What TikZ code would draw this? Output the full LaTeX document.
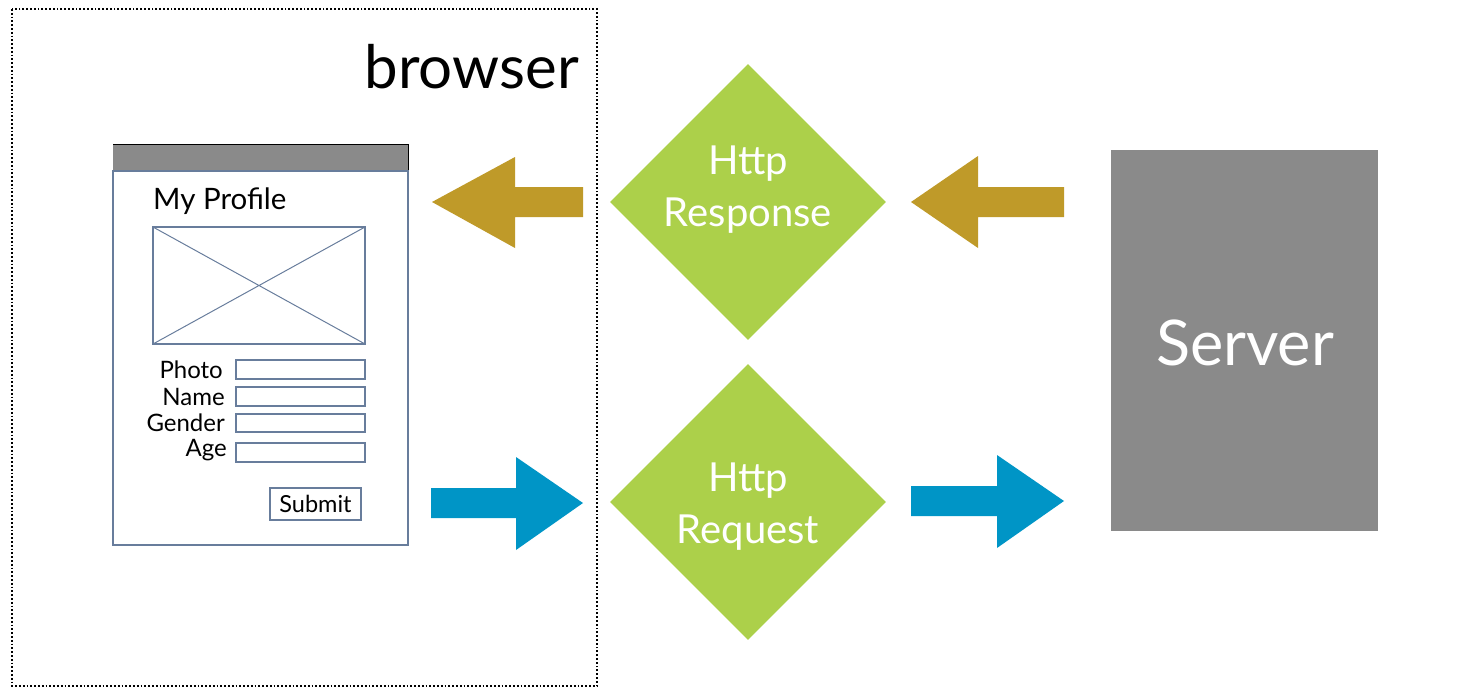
\documentclass[tikz,border=0pt]{standalone}
\usepackage{fontspec}
\setmainfont{Lato}
\usetikzlibrary{shapes.geometric}
\definecolor{slate}{HTML}{687D9C}
\definecolor{barGray}{HTML}{8A8A8A}
\definecolor{gold}{HTML}{BF9A29}
\definecolor{sky}{HTML}{0095C6}
\definecolor{leaf}{HTML}{ACD04A}
\tikzset{
  winbox/.style={draw=slate, line width=2.2pt},
  fieldbox/.style={draw=slate, line width=2pt, fill=white},
  lbl/.style={anchor=east, font=\fontsize{24}{24}\selectfont, inner sep=0pt},
  goldarrow/.style={fill=gold, draw=none},
  bluearrow/.style={fill=sky, draw=none},
  dia/.style={diamond, fill=leaf, draw=none, minimum width=276pt, minimum height=276pt, inner sep=0pt},
  diatext/.style={text=white, align=center, inner sep=0pt, font=\fontsize{40}{52}\selectfont},
}
\begin{document}
\begin{tikzpicture}[x=1pt,y=-1pt]
\useasboundingbox (0,0) rectangle (1469,688);
% browser frame
\draw[dotted, line width=1.8pt] (12,9) rectangle (597,686);
\node[anchor=east, font=\fontsize{60}{60}\selectfont, inner sep=0pt] (browserlbl) at (579,67) {browser};
% window
\fill[barGray] (113,144) rectangle (408,171);
\draw[black, line width=1pt] (113,144) -- (408,144) -- (408,171);
\draw[winbox] (113,171) rectangle (408,545);
\node[anchor=west, font=\fontsize{29.5}{29.5}\selectfont, inner sep=0pt] (title) at (153,201) {My Profile};
% image placeholder
\draw[slate, line width=1pt] (153,227) -- (365,344) (153,344) -- (365,227);
\draw[slate, line width=2pt] (153,227) rectangle (365,344);
% fields
\draw[fieldbox] (236,360) rectangle (365,379);
\draw[fieldbox] (236,387) rectangle (365,406);
\draw[fieldbox] (236,414) rectangle (365,432);
\draw[fieldbox] (236,443) rectangle (365,462);
\node[lbl] (lphoto) at (223,370) {Photo};
\node[lbl] (lname) at (225,397) {Name};
\node[lbl] (lgender) at (225,423) {Gender};
\node[lbl] (lage) at (227,450) {Age};
\node[draw=slate, line width=2pt, minimum width=91pt, minimum height=32pt, inner sep=0pt, font=\fontsize{23.5}{23.5}\selectfont] (submit) at (315.5,504) {Submit};
% diamonds
\node[dia] (resp) at (748,202) {};
\node[diatext] (resptext) at (748,190) {Http\\Response};
\node[dia] (req) at (748,502) {};
\node[diatext] (reqtext) at (748,507) {Http\\Request};
% server
\node[fill=barGray, minimum width=267pt, minimum height=381pt, inner sep=0pt, text=white, font=\fontsize{63}{63}\selectfont] (server) at (1244.5,340.5) {};
\node[text=white, inner sep=0pt, font=\fontsize{63}{63}\selectfont] (servertext) at (1245,343) {Server};
% gold arrows (pointing left)
\fill[goldarrow] (583,187) -- (515,187) -- (515,157) -- (432,202) -- (515,248) -- (515,217) -- (583,217) -- cycle;
\fill[goldarrow] (1064,187) -- (978,187) -- (978,156) -- (911,202) -- (978,248) -- (978,217) -- (1064,217) -- cycle;
% blue arrows (pointing right)
\fill[bluearrow] (431,488) -- (516,488) -- (516,457) -- (583,503) -- (516,550) -- (516,518) -- (431,518) -- cycle;
\fill[bluearrow] (911,486) -- (997,486) -- (997,455) -- (1064,501) -- (997,548) -- (997,516) -- (911,516) -- cycle;
\end{tikzpicture}
\end{document}
